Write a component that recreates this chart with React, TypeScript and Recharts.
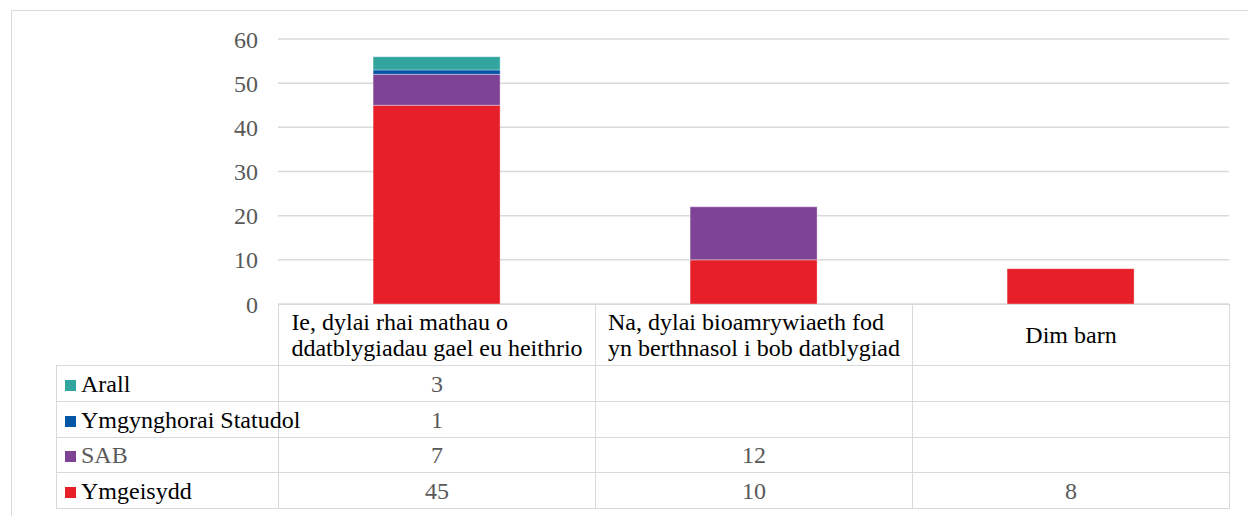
import { BarChart, Bar, XAxis, YAxis, CartesianGrid } from "recharts";

const categoryLines = [
  ["Ie, dylai rhai mathau o", "ddatblygiadau gael eu heithrio"],
  ["Na, dylai bioamrywiaeth fod", "yn berthnasol i bob datblygiad"],
  ["Dim barn"],
];
const categories = categoryLines.map((l) => l.join(" "));

const ymgeisydd = [45, 10, 8];
const sab = [7, 12, null];
const ymgynghorai = [1, null, null];
const arall = [3, null, null];

const yTicks = [0, 10, 20, 30, 40, 50, 60];

// bottom of the stack first
const series = [
  { key: "ymgeisydd", name: "Ymgeisydd", color: "#e61f29", values: ymgeisydd, labelColor: "#000" },
  { key: "sab", name: "SAB", color: "#7f4395", values: sab, labelColor: "#595959" },
  { key: "ymgynghorai", name: "Ymgynghorai Statudol", color: "#0356a6", values: ymgynghorai, labelColor: "#000" },
  { key: "arall", name: "Arall", color: "#33a59f", values: arall, labelColor: "#000" },
];

const chartData = categories.map((name, i) => {
  const row: Record<string, string | number> = { name };
  series.forEach((s) => {
    row[s.key] = s.values[i] ?? 0;
  });
  return row;
});

const FONT = "Liberation Serif, DejaVu Serif, Times New Roman, Times, serif";
const GRID = "#d9d9d9";
const cellBorder = `1px solid ${GRID}`;

function DataTable() {
  const rows = [...series].reverse();
  const rowHeights = [36, 36, 35, 36];
  return (
    <table
      style={{
        position: "absolute",
        left: 56,
        top: 304,
        width: 1174,
        borderCollapse: "collapse",
        tableLayout: "fixed",
        fontFamily: FONT,
        fontSize: 24,
      }}
    >
      <colgroup>
        <col style={{ width: 222 }} />
        <col style={{ width: 317 }} />
        <col style={{ width: 317 }} />
        <col style={{ width: 317 }} />
      </colgroup>
      <tbody>
        <tr style={{ height: 61 }}>
          <td style={{ borderTop: "none", borderLeft: "none", padding: 0 }} />
          {categoryLines.map((lines, i) => (
            <td
              key={i}
              style={{ border: cellBorder, textAlign: "center", padding: 0, color: "#000", verticalAlign: "middle" }}
            >
              <div style={{ display: "inline-block", textAlign: "left", lineHeight: "26px" }}>
                {lines.map((l, j) => (
                  <div key={j} style={{ whiteSpace: "nowrap" }}>{l}</div>
                ))}
              </div>
            </td>
          ))}
        </tr>
        {rows.map((s, r) => (
          <tr key={s.key} style={{ height: rowHeights[r] }}>
            <td style={{ border: cellBorder, padding: "0 0 0 8px", whiteSpace: "nowrap", lineHeight: "24px" }}>
              <span
                style={{
                  display: "inline-block",
                  width: 11,
                  height: 11,
                  background: s.color,
                  marginRight: 5,
                  verticalAlign: "1px",
                }}
              />
              <span style={{ color: s.labelColor }}>{s.name}</span>
            </td>
            {s.values.map((v, i) => (
              <td
                key={i}
                style={{ border: cellBorder, textAlign: "center", color: "#595959", padding: 0, lineHeight: "24px" }}
              >
                {v ?? ""}
              </td>
            ))}
          </tr>
        ))}
      </tbody>
    </table>
  );
}

export default function App() {
  return (
    <div
      style={{
        position: "absolute",
        left: 0,
        top: 0,
        width: 1248,
        height: 516,
        background: "#fff",
        overflow: "hidden",
        fontFamily: FONT,
      }}
    >
      <div
        style={{
          position: "absolute",
          left: 11,
          top: 10,
          width: 1260,
          height: 530,
          border: `1px solid ${GRID}`,
        }}
      />
      <div style={{ position: "absolute", left: 0, top: 0 }}>
        <BarChart
          width={1248}
          height={320}
          data={chartData}
          margin={{ top: 39, right: 19, bottom: 16, left: 218 }}
          barCategoryGap="30%"
        >
          <CartesianGrid vertical={false} stroke={GRID} strokeWidth={1.5} />
          <XAxis dataKey="name" hide />
          <YAxis
            width={60}
            domain={[0, 60]}
            ticks={yTicks}
            axisLine={false}
            tickLine={false}
            tickSize={0}
            tickMargin={20}
            tick={{ fill: "#595959", fontSize: 24, fontFamily: FONT }}
          />
          {series.map((s) => (
            <Bar
              key={s.key}
              dataKey={s.key}
              name={s.name}
              stackId="a"
              fill={s.color}
              stroke="rgba(255,255,255,0.35)"
              strokeWidth={1}
              isAnimationActive={false}
            />
          ))}
        </BarChart>
      </div>
      <DataTable />
    </div>
  );
}
